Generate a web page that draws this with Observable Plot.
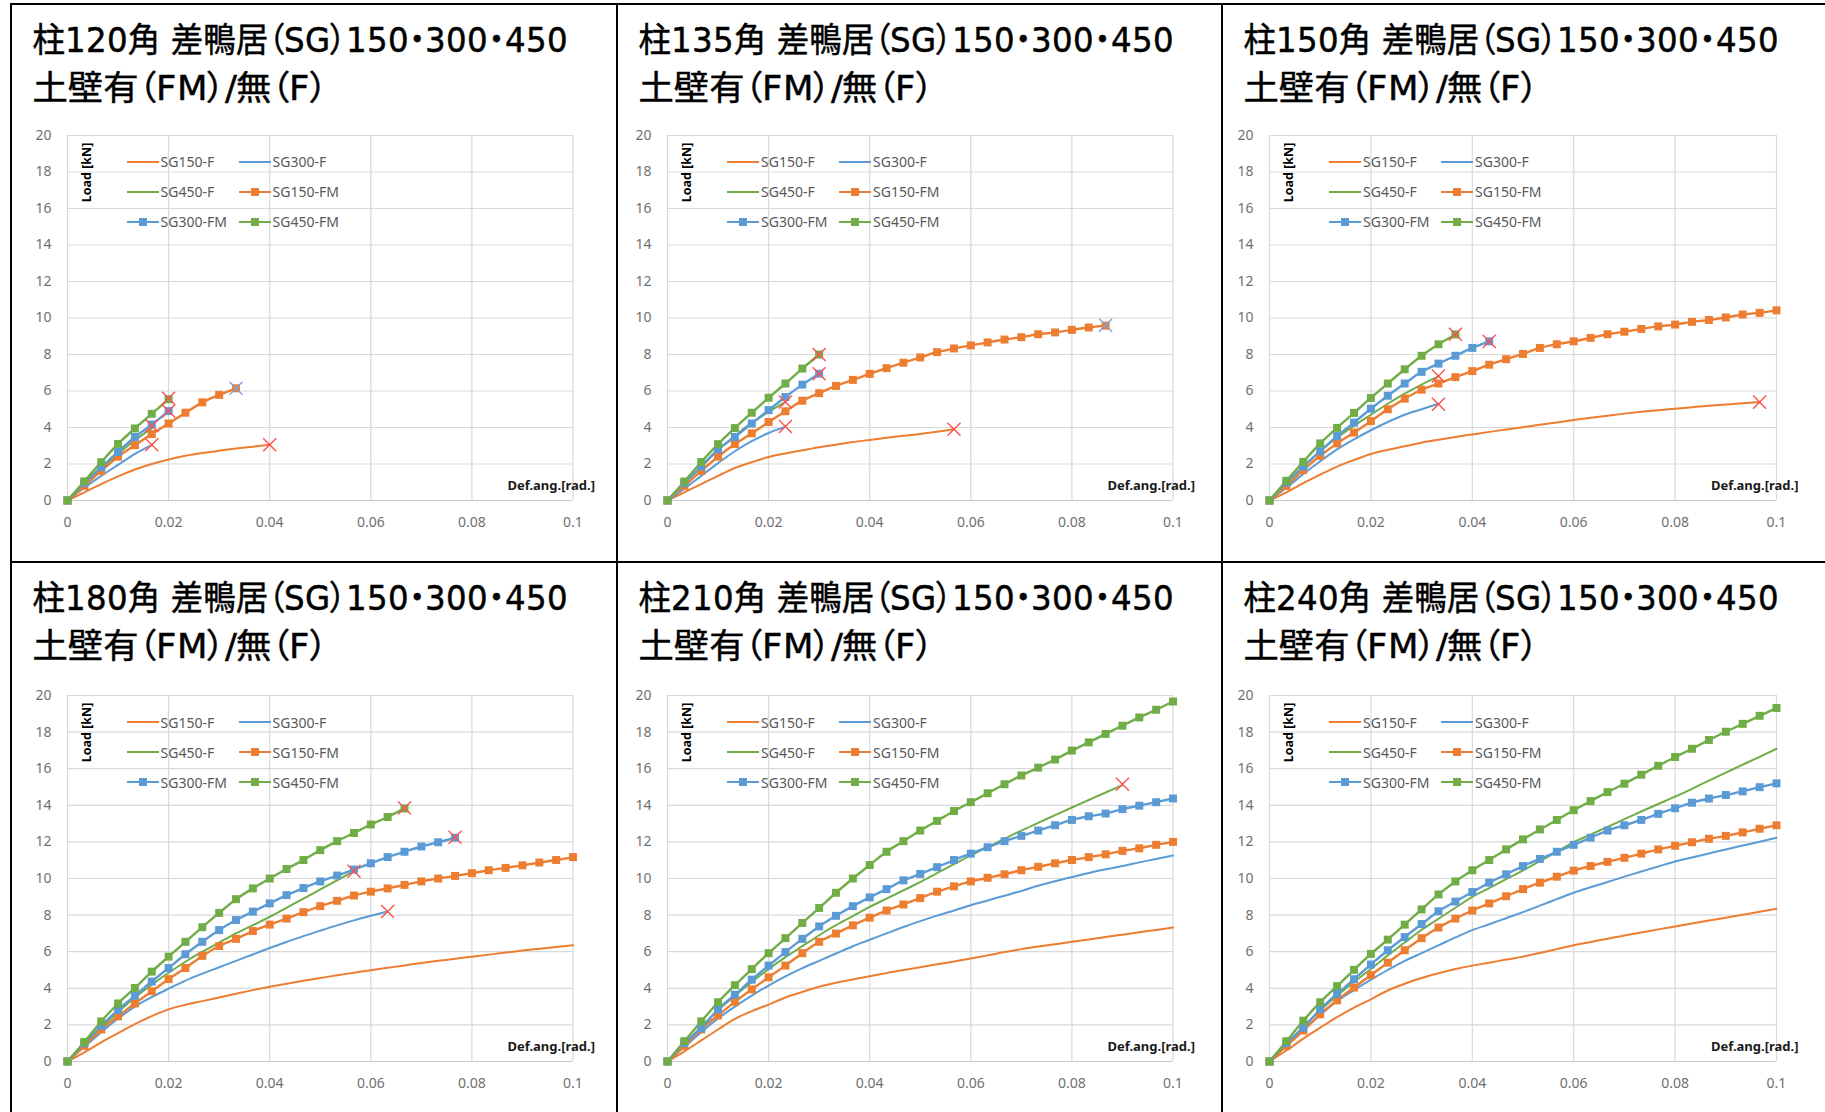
<!DOCTYPE html>
<html>
<head>
<meta charset="utf-8">
<script src="https://cdn.jsdelivr.net/npm/d3@7"></script>
<script src="https://cdn.jsdelivr.net/npm/@observablehq/plot@0.6"></script>
<style>
  @font-face { font-family: "TitleLatin"; src: local("DejaVu Sans"), local("DejaVuSans"); unicode-range: U+0020-007E; }
  html, body { margin: 0; padding: 0; background: #fff; }
  #page { position: relative; width: 1825px; height: 1112px; overflow: hidden; background: #fff; }
  .vline { position: absolute; width: 2px; background: #000; }
  .hline { position: absolute; height: 2px; background: #000; }
  .plotbox { position: absolute; }
  .leg { position: absolute; font-family: "Noto Sans", sans-serif; font-size: 14px; color: #595959; white-space: nowrap; display: flex; align-items: center; height: 16px; }
  .leg svg { display: block; margin-right: 2px; }
  #titles { position: absolute; left: 0; top: 0; pointer-events: none; }
  #titles text { font-family: "TitleLatin", "Noto Sans CJK JP", sans-serif; font-size: 34px; font-feature-settings: "palt"; fill: #000; stroke: #000; stroke-width: 0.45px; }
</style>
</head>
<body>
<div id="page"></div>
<script>
// ---------- shared axes / categories ----------
const defAng = [0, 0.00333, 0.00667, 0.01, 0.01333, 0.01667, 0.02, 0.02333, 0.02667, 0.03, 0.03333, 0.03667, 0.04, 0.04333, 0.04667, 0.05, 0.05333, 0.05667, 0.06, 0.06333, 0.06667, 0.07, 0.07333, 0.07667, 0.08, 0.08333, 0.08667, 0.09, 0.09333, 0.09667, 0.1];
const xTicks = [0, 0.02, 0.04, 0.06, 0.08, 0.1];
const xTickLabels = ["0", "0.02", "0.04", "0.06", "0.08", "0.1"];
const yTicks = [0, 2, 4, 6, 8, 10, 12, 14, 16, 18, 20];
const seriesNames = ["SG150-F", "SG300-F", "SG450-F", "SG150-FM", "SG300-FM", "SG450-FM"];
const seriesColors = ["#ED7D31", "#5B9BD5", "#70AD47", "#ED7D31", "#5B9BD5", "#70AD47"];
const panelTitles1 = ["柱120角 差鴨居（SG）150・300・450", "柱135角 差鴨居（SG）150・300・450", "柱150角 差鴨居（SG）150・300・450",
                      "柱180角 差鴨居（SG）150・300・450", "柱210角 差鴨居（SG）150・300・450", "柱240角 差鴨居（SG）150・300・450"];
const panelTitle2 = "土壁有（FM）/無（F）";

// ---------- 柱120角 ----------
const p120_SG150_F  = [0, 0.45, 0.9, 1.32, 1.7, 2.0, 2.25, 2.45, 2.6, 2.72, 2.85, 2.95, 3.05];
const p120_SG300_F  = [0, 0.7, 1.35, 1.95, 2.55, 3.05];
const p120_SG450_F  = [0, 0.9, 1.75, 2.55, 3.3, 3.95];
const p120_SG150_FM = [0, 0.8, 1.62, 2.4, 3.03, 3.64, 4.22, 4.81, 5.38, 5.79, 6.15];
const p120_SG300_FM = [0, 0.95, 1.82, 2.66, 3.48, 4.16, 4.9];
const p120_SG450_FM = [0, 1.05, 2.1, 3.1, 3.95, 4.75, 5.55];
const p120_redX  = [[0.04, 3.05], [0.01667, 3.05], [0.02, 5.6], [0.02, 4.9], [0.01667, 4.1]];
const p120_blueX = [[0.03333, 6.15]];

// ---------- 柱135角 ----------
const p135_SG150_F  = [0, 0.45, 0.9, 1.35, 1.78, 2.1, 2.38, 2.58, 2.75, 2.92, 3.06, 3.2, 3.32, 3.44, 3.55, 3.65, 3.77, 3.9];
const p135_SG300_F  = [0, 0.65, 1.35, 2.05, 2.7, 3.25, 3.7, 4.05];
const p135_SG450_F  = [0, 0.95, 1.85, 2.75, 3.55, 4.25, 4.85, 5.4];
const p135_SG150_FM = [0, 0.8, 1.62, 2.4, 3.09, 3.68, 4.3, 4.89, 5.47, 5.88, 6.28, 6.61, 6.94, 7.25, 7.55, 7.84, 8.13, 8.33, 8.5, 8.66, 8.82, 8.95, 9.11, 9.21, 9.35, 9.48, 9.58];
const p135_SG300_FM = [0, 0.95, 1.86, 2.8, 3.48, 4.22, 4.95, 5.67, 6.35, 6.95];
const p135_SG450_FM = [0, 1.04, 2.11, 3.09, 3.97, 4.81, 5.63, 6.41, 7.23, 8.0];
const p135_redX  = [[0.05667, 3.9], [0.02333, 4.05], [0.02333, 5.4], [0.03, 8.0], [0.03, 6.95]];
const p135_blueX = [[0.08667, 9.6]];

// ---------- 柱150角 ----------
const p150_SG150_F  = [0, 0.45, 0.95, 1.42, 1.86, 2.22, 2.55, 2.78, 2.97, 3.17, 3.33, 3.48, 3.62, 3.76, 3.89, 4.02, 4.15, 4.28, 4.41, 4.53, 4.65, 4.76, 4.86, 4.95, 5.03, 5.11, 5.19, 5.26, 5.33, 5.39];
const p150_SG300_F  = [0, 0.7, 1.45, 2.15, 2.8, 3.35, 3.85, 4.3, 4.7, 5.0, 5.3];
const p150_SG450_F  = [0, 0.95, 1.85, 2.7, 3.45, 4.1, 4.7, 5.3, 5.85, 6.35, 6.8];
const p150_SG150_FM = [0, 0.8, 1.67, 2.45, 3.13, 3.72, 4.35, 5.0, 5.58, 6.07, 6.41, 6.76, 7.09, 7.44, 7.74, 8.03, 8.36, 8.56, 8.72, 8.91, 9.11, 9.25, 9.4, 9.54, 9.64, 9.79, 9.89, 10.03, 10.19, 10.28, 10.42];
const p150_SG300_FM = [0, 0.98, 1.86, 2.7, 3.53, 4.27, 5.03, 5.74, 6.41, 7.05, 7.5, 7.93, 8.36, 8.72];
const p150_SG450_FM = [0, 1.08, 2.12, 3.13, 3.98, 4.8, 5.62, 6.41, 7.19, 7.93, 8.56, 9.1];
const p150_redX  = [[0.09667, 5.39], [0.03333, 5.27], [0.03333, 6.82], [0.03667, 9.11], [0.04333, 8.72]];
const p150_blueX = [];

// ---------- 柱180角 ----------
const p180_SG150_F  = [0, 0.5, 1.05, 1.55, 2.04, 2.48, 2.85, 3.1, 3.3, 3.5, 3.7, 3.9, 4.08, 4.25, 4.41, 4.56, 4.71, 4.85, 4.99, 5.12, 5.25, 5.38, 5.5, 5.62, 5.73, 5.84, 5.95, 6.06, 6.16, 6.26, 6.35];
const p180_SG300_F  = [0, 0.8, 1.6, 2.35, 3.0, 3.52, 3.98, 4.42, 4.8, 5.15, 5.5, 5.85, 6.2, 6.53, 6.85, 7.15, 7.44, 7.71, 7.96, 8.2];
const p180_SG450_F  = [0, 0.95, 1.85, 2.7, 3.5, 4.2, 4.85, 5.45, 6.0, 6.5, 7.0, 7.45, 7.9, 8.4, 8.9, 9.4, 9.9, 10.4];
const p180_SG150_FM = [0, 0.85, 1.75, 2.47, 3.17, 3.84, 4.5, 5.11, 5.77, 6.31, 6.7, 7.13, 7.48, 7.81, 8.16, 8.49, 8.78, 9.07, 9.28, 9.46, 9.65, 9.84, 10.0, 10.14, 10.29, 10.45, 10.58, 10.72, 10.87, 11.01, 11.17];
const p180_SG300_FM = [0, 1.0, 1.94, 2.82, 3.59, 4.37, 5.11, 5.86, 6.54, 7.18, 7.73, 8.19, 8.64, 9.09, 9.48, 9.84, 10.16, 10.49, 10.83, 11.17, 11.46, 11.75, 11.98, 12.23];
const p180_SG450_FM = [0, 1.07, 2.19, 3.17, 4.02, 4.91, 5.73, 6.54, 7.34, 8.12, 8.87, 9.46, 10.0, 10.52, 11.01, 11.55, 12.04, 12.49, 12.95, 13.36, 13.83];
const p180_redX  = [[0.06333, 8.2], [0.05667, 10.4], [0.06667, 13.85], [0.07667, 12.25]];
const p180_blueX = [];

// ---------- 柱210角 ----------
const p210_SG150_F  = [0, 0.55, 1.15, 1.75, 2.33, 2.75, 3.11, 3.5, 3.8, 4.08, 4.3, 4.48, 4.66, 4.83, 5.0, 5.15, 5.31, 5.47, 5.63, 5.8, 5.98, 6.14, 6.28, 6.41, 6.54, 6.67, 6.8, 6.93, 7.06, 7.19, 7.32];
const p210_SG300_F  = [0, 0.8, 1.6, 2.35, 3.0, 3.6, 4.15, 4.65, 5.1, 5.5, 5.9, 6.3, 6.65, 7.0, 7.35, 7.67, 7.97, 8.25, 8.54, 8.8, 9.06, 9.32, 9.6, 9.85, 10.08, 10.3, 10.5, 10.68, 10.88, 11.07, 11.26];
const p210_SG450_F  = [0, 0.95, 1.9, 2.8, 3.6, 4.35, 5.05, 5.7, 6.3, 6.9, 7.45, 7.95, 8.45, 8.9, 9.35, 9.8, 10.3, 10.78, 11.26, 11.72, 12.17, 12.62, 13.04, 13.46, 13.88, 14.29, 14.7, 15.1];
const p210_SG150_FM = [0, 0.85, 1.75, 2.52, 3.26, 3.94, 4.6, 5.24, 5.92, 6.54, 6.99, 7.44, 7.86, 8.25, 8.58, 8.93, 9.28, 9.57, 9.84, 10.04, 10.23, 10.45, 10.64, 10.83, 11.01, 11.17, 11.32, 11.51, 11.65, 11.84, 12.0];
const p210_SG300_FM = [0, 1.0, 1.81, 2.85, 3.65, 4.47, 5.24, 5.98, 6.7, 7.38, 7.96, 8.49, 8.97, 9.42, 9.9, 10.25, 10.62, 11.01, 11.36, 11.71, 12.04, 12.33, 12.62, 12.91, 13.2, 13.4, 13.55, 13.79, 13.98, 14.17, 14.37];
const p210_SG450_FM = [0, 1.11, 2.19, 3.24, 4.17, 5.05, 5.92, 6.74, 7.57, 8.39, 9.22, 10.0, 10.74, 11.46, 12.04, 12.62, 13.15, 13.69, 14.17, 14.66, 15.15, 15.63, 16.06, 16.5, 16.99, 17.44, 17.9, 18.35, 18.8, 19.22, 19.67];
const p210_redX  = [[0.09, 15.15]];
const p210_blueX = [];

// ---------- 柱240角 ----------
const p240_SG150_F  = [0, 0.6, 1.25, 1.85, 2.43, 2.95, 3.4, 3.88, 4.25, 4.56, 4.82, 5.05, 5.24, 5.4, 5.57, 5.73, 5.93, 6.14, 6.35, 6.53, 6.71, 6.89, 7.05, 7.22, 7.38, 7.54, 7.7, 7.86, 8.02, 8.18, 8.35];
const p240_SG300_F  = [0, 0.85, 1.7, 2.55, 3.3, 3.9, 4.47, 5.0, 5.5, 5.92, 6.35, 6.78, 7.18, 7.5, 7.83, 8.16, 8.52, 8.87, 9.22, 9.52, 9.81, 10.1, 10.38, 10.66, 10.93, 11.15, 11.37, 11.59, 11.8, 12.01, 12.23];
const p240_SG450_F  = [0, 0.95, 1.9, 2.8, 3.6, 4.35, 5.05, 5.8, 6.5, 7.2, 7.8, 8.4, 9.0, 9.48, 9.96, 10.44, 10.95, 11.46, 11.98, 12.4, 12.82, 13.24, 13.66, 14.07, 14.47, 14.9, 15.35, 15.79, 16.22, 16.65, 17.09];
const p240_SG150_FM = [0, 0.85, 1.69, 2.58, 3.34, 4.04, 4.72, 5.4, 6.08, 6.74, 7.32, 7.81, 8.25, 8.64, 9.03, 9.42, 9.77, 10.1, 10.43, 10.68, 10.91, 11.13, 11.36, 11.59, 11.79, 11.98, 12.17, 12.33, 12.52, 12.72, 12.91];
const p240_SG300_FM = [0, 1.0, 1.84, 2.85, 3.69, 4.5, 5.3, 6.08, 6.8, 7.51, 8.21, 8.74, 9.26, 9.77, 10.23, 10.68, 11.07, 11.46, 11.84, 12.23, 12.62, 12.91, 13.2, 13.53, 13.84, 14.14, 14.37, 14.56, 14.76, 14.99, 15.2];
const p240_SG450_FM = [0, 1.11, 2.23, 3.24, 4.12, 5.01, 5.88, 6.66, 7.48, 8.31, 9.13, 9.84, 10.45, 11.01, 11.59, 12.14, 12.68, 13.2, 13.73, 14.23, 14.72, 15.18, 15.67, 16.16, 16.64, 17.09, 17.57, 18.02, 18.45, 18.89, 19.32];
const p240_redX  = [];
const p240_blueX = [];

// ---------- assemble ----------
const panelSeries = [
  [p120_SG150_F, p120_SG300_F, p120_SG450_F, p120_SG150_FM, p120_SG300_FM, p120_SG450_FM],
  [p135_SG150_F, p135_SG300_F, p135_SG450_F, p135_SG150_FM, p135_SG300_FM, p135_SG450_FM],
  [p150_SG150_F, p150_SG300_F, p150_SG450_F, p150_SG150_FM, p150_SG300_FM, p150_SG450_FM],
  [p180_SG150_F, p180_SG300_F, p180_SG450_F, p180_SG150_FM, p180_SG300_FM, p180_SG450_FM],
  [p210_SG150_F, p210_SG300_F, p210_SG450_F, p210_SG150_FM, p210_SG300_FM, p210_SG450_FM],
  [p240_SG150_F, p240_SG300_F, p240_SG450_F, p240_SG150_FM, p240_SG300_FM, p240_SG450_FM]
];
const panelRedX  = [p120_redX, p135_redX, p150_redX, p180_redX, p210_redX, p240_redX];
const panelBlueX = [p120_blueX, p135_blueX, p150_blueX, p180_blueX, p210_blueX, p240_blueX];

// layout (page pixels)
const colBorder = [10, 616, 1221];
const colPlotLeft = [66.5, 667, 1269];
const colPlotWidth = [505.5, 505.5, 507];
const rowBorder = [3, 561];
const rowPlotTop = [134.5, 695];
const rowPlotHeight = [365, 366];
const ML = 60, MR = 45, MT = 20, MB = 45;
const titleWidths = [535, 295];

const page = document.getElementById("page");
function addDiv(cls, style, html) {
  const d = document.createElement("div");
  d.className = cls;
  Object.assign(d.style, style);
  if (html !== undefined) d.innerHTML = html;
  page.appendChild(d);
  return d;
}

// borders
colBorder.forEach(x => addDiv("vline", {left: x + "px", top: "3px", height: "1109px"}));
rowBorder.forEach(y => addDiv("hline", {top: y + "px", left: "10px", width: "1815px"}));

// titles overlay
const titleSvg = d3.create("svg").attr("id", "titles").attr("width", 1825).attr("height", 1112);

panelSeries.forEach((series, pi) => {
  const col = pi % 3, row = Math.floor(pi / 3);
  const xL = colPlotLeft[col], w = colPlotWidth[col];
  const yT = rowPlotTop[row], h = rowPlotHeight[row];

  // title (two lines)
  [panelTitles1[pi], panelTitle2].forEach((t, li) => {
    titleSvg.append("text")
      .attr("x", colBorder[col] + 22.5)
      .attr("y", rowBorder[row] + (li === 0 ? 48.5 : 96.5))
      .attr("textLength", titleWidths[li])
      .attr("lengthAdjust", "spacingAndGlyphs")
      .text(t);
  });

  const rows = [];
  series.forEach((vals, si) => vals.forEach((v, i) => rows.push({series: seriesNames[si], x: defAng[i], y: v, fm: si >= 3})));
  const redX = panelRedX[pi].map(([x, y]) => ({x, y}));
  const blueX = panelBlueX[pi].map(([x, y]) => ({x, y}));

  const chart = Plot.plot({
    width: w + ML + MR,
    height: h + MT + MB,
    marginLeft: ML, marginRight: MR, marginTop: MT, marginBottom: MB,
    style: {fontFamily: "Noto Sans, sans-serif", background: "transparent", overflow: "visible"},
    x: {domain: [0, 0.1]},
    y: {domain: [0, 20]},
    color: {domain: seriesNames, range: seriesColors},
    marks: [
      Plot.gridX(xTicks, {stroke: "#d9d9d9", strokeOpacity: 1, strokeWidth: 1.2}),
      Plot.gridY(yTicks, {stroke: "#d9d9d9", strokeOpacity: 1, strokeWidth: 1.2}),
      Plot.ruleY([0], {stroke: "#c8c8c8", strokeWidth: 1.2}),
      Plot.axisX(xTicks, {tickSize: 0, tickPadding: 16.5, fontSize: 14, color: "#707070", label: null,
        tickFormat: d => xTickLabels[xTicks.indexOf(d)]}),
      Plot.axisY(yTicks, {tickSize: 0, tickPadding: 16, fontSize: 14, color: "#707070", label: null}),
      Plot.line(rows.filter(d => !d.fm), {x: "x", y: "y", z: "series", stroke: "series", strokeWidth: 2, curve: "monotone-x"}),
      Plot.line(rows.filter(d => d.fm), {x: "x", y: "y", z: "series", stroke: "series", strokeWidth: 2.4, curve: "monotone-x"}),
      Plot.dot(rows.filter(d => d.fm), {x: "x", y: "y", fill: "series", symbol: "square", r: 4.5, stroke: "none"}),
      Plot.dot(redX, {x: "x", y: "y", symbol: "times", r: 6, stroke: "#ff5050", strokeWidth: 1.4, fill: "none"}),
      Plot.dot(blueX, {x: "x", y: "y", symbol: "times", r: 6, stroke: "#7aa3dc", strokeWidth: 1.4, fill: "none"}),
      Plot.text(["Load [kN]"], {frameAnchor: "top-left", dx: 15, dy: 37, rotate: -90, textAnchor: "middle",
        fontWeight: "bold", fontSize: 12.5, fill: "#000"}),
      Plot.text(["Def.ang.[rad.]"], {frameAnchor: "bottom-right", dx: 22, dy: -11, textAnchor: "end",
        fontWeight: "bold", fontSize: 13, fill: "#1a1a1a"})
    ]
  });
  const box = addDiv("plotbox", {left: (xL - ML) + "px", top: (yT - MT) + "px"});
  box.appendChild(chart);

  // legend (inside plot area, 2 columns x 3 rows)
  const legCols = [xL + 60, xL + 172];
  const legRows = [yT + 27, yT + 57, yT + 87];
  seriesNames.forEach((name, si) => {
    const c = si % 2, r = Math.floor(si / 2);
    const color = seriesColors[si];
    const fm = name.endsWith("FM");
    const sw = `<svg width="32" height="12"><line x1="0" y1="6" x2="32" y2="6" stroke="${color}" stroke-width="2"/>${fm ? `<rect x="12" y="2" width="8" height="8" fill="${color}"/>` : ""}</svg>`;
    addDiv("leg", {left: legCols[c] + "px", top: (legRows[r] - 8) + "px"}, sw + "<span>" + name + "</span>");
  });
});
page.appendChild(titleSvg.node());
</script>
</body>
</html>
